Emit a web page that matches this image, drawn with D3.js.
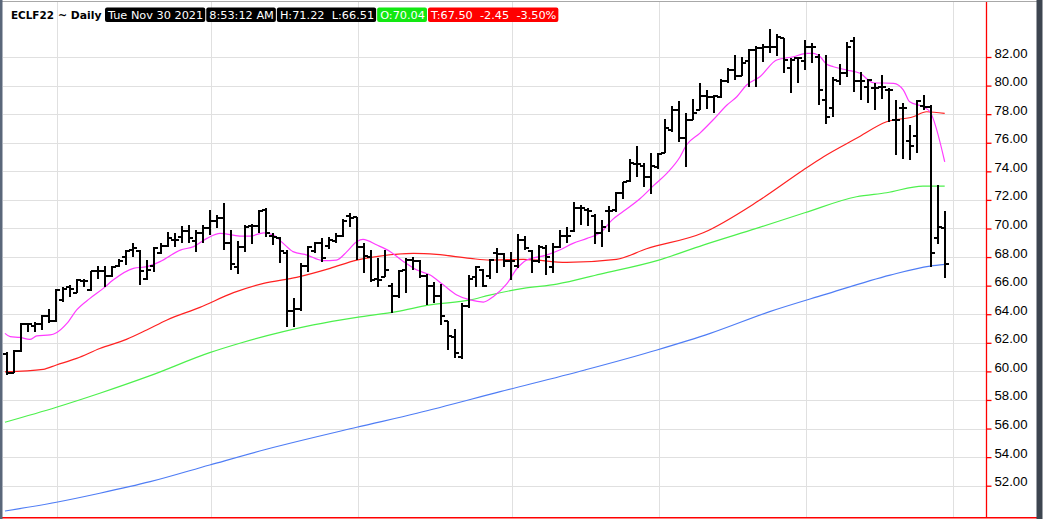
<!DOCTYPE html>
<html>
<head>
<script src="https://d3js.org/d3.v7.min.js"></script>
<style>
  html, body { margin: 0; padding: 0; background: #fff; overflow: hidden; }
  svg { display: block; }
  .grid line { stroke: #e0e0e0; stroke-width: 1px; shape-rendering: crispEdges; }
  .ma { fill: none; stroke-width: 1.2px; }
  .bar { stroke: #000; stroke-width: 2px; fill: none; shape-rendering: crispEdges; }
  .hdr text { font-family: "DejaVu Sans", sans-serif; font-size: 11.3px; white-space: pre; }
  .axis text { font-family: "Liberation Sans", Arial, sans-serif; font-size: 13.2px; fill: #000; }
</style>
</head>
<body>
<svg id="chart" width="1043" height="519"></svg>
<script>
// ---- data (135 daily bars, ECLF22) ----
const opens = [61.2,59.9,61.4,63.3,63.2,63.3,63.9,63.5,65.0,65.9,65.5,66.3,65.7,67.0,67.0,66.7,67.4,68.0,68.5,68.4,
  66.5,67.4,68.3,68.8,69.2,69.4,69.8,69.1,69.7,70.0,70.5,70.7,69.0,67.3,68.7,70.2,70.2,71.3,69.5,69.3,
  68.3,64.2,64.4,67.4,68.4,69.0,68.8,69.1,69.5,70.9,70.8,68.7,68.0,66.5,66.6,66.0,65.3,67.1,67.8,67.7,
  66.7,66.0,65.3,63.5,62.4,61.0,64.6,66.6,67.1,66.7,68.3,68.2,67.7,67.4,69.2,68.4,67.7,68.6,67.3,68.7,
  69.5,69.8,71.4,71.3,70.9,69.7,71.2,71.3,72.5,73.3,74.5,74.4,73.6,74.3,75.3,76.9,78.3,76.3,77.6,78.3,
  79.3,79.2,79.2,80.3,81.1,80.7,81.7,82.5,82.6,82.7,82.7,83.3,81.2,81.9,81.7,82.7,82.0,79.0,78.4,80.3,
  80.9,83.1,80.3,79.9,79.8,79.9,79.7,77.6,78.4,76.1,76.5,78.6,78.5,69.3,70.04];
const highs = [61.38,61.49,63.36,63.41,63.48,63.94,64.34,65.74,65.88,66.04,66.44,66.44,67.04,67.37,67.37,67.37,67.84,68.49,68.96,68.49,
  67.79,68.68,68.96,69.77,69.66,70.17,70.24,69.89,70.24,71.29,70.94,71.76,69.9,69.1,70.24,70.31,71.29,71.41,69.66,69.42,
  68.49,65.11,67.56,68.77,69.07,69.31,69.42,69.66,70.64,71.10,70.82,68.96,68.49,67.91,68.49,66.21,67.09,67.91,68.03,67.79,
  66.81,66.28,66.11,63.55,62.94,64.76,66.74,67.37,67.14,67.84,68.61,68.26,68.37,69.61,69.47,68.49,68.84,68.84,68.96,69.89,
  70.12,71.87,71.64,71.41,71.01,70.59,71.57,72.57,73.27,74.84,75.77,74.59,75.26,75.31,77.64,78.57,78.92,78.06,79.04,80.20,
  79.69,79.34,80.44,81.21,82.14,81.98,82.54,82.77,82.91,83.94,83.61,83.31,81.91,82.02,83.19,82.96,82.19,82.14,80.62,81.51,
  83.07,83.42,80.97,80.44,80.16,80.74,79.81,78.99,78.76,77.24,78.99,79.34,78.64,73.04,71.22];
const lows = [59.74,59.86,61.38,62.78,62.78,62.89,63.41,63.48,64.88,65.18,65.50,65.88,65.64,66.44,65.88,66.63,67.32,67.44,68.02,66.04,
  66.39,66.97,68.21,68.72,68.68,68.96,68.96,68.37,68.96,69.54,70.01,68.49,67.1,66.81,68.37,68.91,69.70,69.42,68.84,67.56,
  63.13,63.13,64.25,66.97,68.26,67.67,68.54,68.96,69.42,70.12,67.79,66.86,66.28,65.88,66.63,64.06,65.11,65.46,67.09,66.51,
  64.64,64.76,63.24,61.49,60.91,60.84,64.41,65.93,65.93,66.44,66.91,67.32,66.39,67.21,68.49,66.91,67.56,66.74,66.86,68.61,
  68.96,69.77,70.24,70.17,68.91,68.68,69.77,71.17,72.04,73.27,73.62,72.92,72.41,74.14,75.26,76.78,76.08,74.28,77.59,78.29,
  78.34,78.11,79.11,80.20,80.39,80.67,79.92,79.88,81.67,82.30,82.07,80.90,79.46,80.16,81.09,81.56,78.64,77.31,77.83,80.04,
  80.62,79.57,78.99,78.76,78.29,79.04,77.48,75.14,74.84,74.79,75.31,78.29,67.33,68.92,66.51];
const closes = [59.9,61.4,63.3,63.3,63.3,63.9,63.5,65.7,65.8,65.8,66.4,66.3,67.0,67.0,66.7,67.3,67.7,68.4,68.6,67.0,
  67.1,68.6,68.8,69.3,69.2,69.8,69.3,69.7,70.0,70.5,70.7,69.0,67.5,68.7,70.1,70.2,71.2,69.7,69.4,68.4,
  64.2,64.4,67.4,68.7,69.0,67.9,69.2,69.5,70.5,70.7,68.7,68.1,66.4,66.4,67.1,65.3,67.0,67.8,67.7,66.7,
  66.0,65.3,63.9,62.5,61.3,64.6,66.5,67.3,66.0,67.8,68.2,67.7,67.7,69.2,68.6,67.7,68.7,68.0,68.7,69.5,
  69.5,71.4,71.4,71.2,69.7,70.1,71.2,72.5,73.25,74.6,74.5,73.6,74.4,75.2,77.0,78.3,76.3,77.6,78.1,79.3,
  79.2,79.3,80.3,81.1,80.7,81.6,82.5,82.6,82.7,82.7,83.4,81.8,81.8,81.9,82.7,82.7,79.7,77.8,80.4,80.9,
  82.7,80.3,80.3,80.4,79.8,79.9,79.7,77.6,78.4,75.8,78.9,78.5,68.3,70.1,67.50];

// moving averages, sampled as [bar index, price]
const maFast = [[-0.25,62.66],[0.5,62.43],[1.9,62.38],[3.3,62.24],[4.3,62.48],[6.2,62.55],[7.1,62.71],[8.6,63.36],[10,64.30],
  [11.9,65.11],[13.8,65.81],[15.2,66.39],[18.1,67.21],[20,67.33],[21.9,67.68],[24.8,68.49],[26.7,68.73],[28.6,69.31],
  [30.5,69.66],[33.3,69.47],[34.8,69.47],[36.7,69.70],[38.1,69.54],[39.5,68.96],[40.9,68.38],[42.9,68.14],[45.2,67.75],
  [47.1,67.79],[48.6,68.38],[50,69.08],[50.9,69.24],[52.9,68.84],[54.8,68.38],[56.7,67.68],[58.6,67.09],[60.5,66.74],
  [62.4,66.04],[64.3,65.35],[66.2,65.00],[68.1,64.85],[69.5,65.23],[71.4,66.1],[72.9,67.2],[74.3,67.8],[77.1,68.14],
  [79,68.49],[80.9,68.96],[82.9,69.31],[84.8,69.7],[86.5,70.6],[88.1,71.2],[90.5,72.1],[92.4,73.0],[94.3,73.86],
  [96.2,75.02],[97.1,75.84],[99,76.66],[100.9,77.59],[102.9,78.64],[104.3,79.22],[105.7,80.04],[107.6,80.62],
  [110,81.79],[112.4,82.02],[114.3,82.26],[115.2,82.26],[116.2,82.02],[117.1,81.51],[118.1,81.32],[120,81.09],
  [121.9,80.86],[123.8,80.20],[126.7,80.16],[128.1,79.69],[129,78.87],[130.9,78.52],[131.9,78.17],[134,74.67]];
const maMid = [[-0.25,59.96],[5.2,60.14],[7.1,60.45],[10,60.91],[13.3,61.6],[17.1,62.24],[20,62.9],[22.9,63.60],
  [27.6,64.48],[32.4,65.51],[36.7,66.16],[41.4,66.58],[46.2,67.21],[50,67.79],[53.3,68.07],[58.1,68.26],[61.4,68.19],
  [66.2,67.91],[69,67.79],[73.8,67.84],[80,67.63],[87.1,67.84],[91.4,68.58],[99.5,69.7],[107.3,71.9],[113.8,74.09],
  [116.7,75.02],[121.4,76.31],[125.7,77.47],[129.5,77.82],[131.4,78.17],[134,78.06]];
const maSlow = [[-0.25,56.44],[7.1,57.49],[13.3,58.47],[20.5,59.70],[29,61.31],[33.3,61.97],[39.5,62.78],[43.8,63.25],
  [50,63.78],[55.7,64.18],[60.5,64.65],[66.2,65.0],[69,65.34],[73.8,65.81],[78.6,66.11],[84.8,66.81],[92.9,67.75],
  [99.5,68.84],[107.1,70.01],[114,71.10],[121.4,72.22],[125.7,72.5],[130.9,72.97],[134,72.97]];
const maLong = [[-0.25,50.23],[7.1,50.84],[13.3,51.47],[20.5,52.28],[29,53.45],[37.1,54.55],[50,56.09],[58.6,57.07],
  [70.5,58.58],[82.6,60.10],[92.9,61.50],[100.5,62.66],[109,64.18],[116.7,65.35],[126.2,66.74],[131.9,67.37],[134,67.49]];

const priceTicks = [52,54,56,58,60,62,64,66,68,70,72,74,76,78,80,82];
const monthStarts = [7, 29, 50, 72, 93, 114, 135];   // bar index of first trading day of each month

const headerTitle = 'ECLF22';
const headerPeriod = '~ Daily';
const headerBoxes = ['Tue Nov 30 2021', '8:53:12 AM', 'H:71.22  L:66.51', 'O:70.04', 'T:67.50  -2.45  -3.50%'];
const headerBoxColors = ['#000000', '#000000', '#000000', '#12e812', '#ff0000'];

// ---- layout ----
const svg = d3.select('#chart');
const width = 1043, height = 519;
const plot = { left: 3, right: 986.5, top: 2, bottom: 518 };

const x = d3.scaleLinear().domain([0, 134]).range([6.7, 944.7]);
const y = d3.scaleLinear().domain([49.74, 85.85]).range([plot.bottom, plot.top]);

svg.append('rect').attr('width', width).attr('height', height).attr('fill', '#fff');

// grid
const grid = svg.append('g').attr('class', 'grid');
grid.selectAll('line.h')
  .data(priceTicks)
  .join('line')
  .attr('class', 'h')
  .attr('x1', plot.left).attr('x2', plot.right)
  .attr('y1', (d) => Math.round(y(d)) + 0.5).attr('y2', (d) => Math.round(y(d)) + 0.5);
grid.selectAll('line.v')
  .data(monthStarts)
  .join('line')
  .attr('class', 'v')
  .attr('x1', (d) => Math.round(x(d)) + 1.5).attr('x2', (d) => Math.round(x(d)) + 1.5)
  .attr('y1', plot.top).attr('y2', plot.bottom);

// moving averages
const line = d3.line().x((d) => x(d[0])).y((d) => y(d[1])).curve(d3.curveMonotoneX);
const maSeries = [
  { data: maLong, color: '#4f7df5' },
  { data: maSlow, color: '#4df04d' },
  { data: maMid, color: '#ff2121' },
  { data: maFast, color: '#ff3cff' }
];
svg.append('g').selectAll('path.ma')
  .data(maSeries)
  .join('path')
  .attr('class', 'ma')
  .attr('stroke', (d) => d.color)
  .attr('d', (d) => line(d.data));

// OHLC bars
svg.append('g').selectAll('path.bar')
  .data(d3.range(opens.length))
  .join('path')
  .attr('class', 'bar')
  .attr('d', (i) => {
    const bx = Math.round(x(i));
    const yo = Math.round(y(opens[i])), yc = Math.round(y(closes[i]));
    return `M${bx},${Math.round(y(highs[i]))}V${Math.round(y(lows[i]))}` +
      `M${bx - 4},${yo}H${bx}M${bx},${yc}H${bx + 4}`;
  });

// price axis on the right
const axis = svg.append('g')
  .attr('class', 'axis')
  .attr('transform', `translate(${plot.right},0)`)
  .call(d3.axisRight(y).tickValues(priceTicks).tickSize(5).tickPadding(3).tickFormat(d3.format('.2f')));
axis.select('.domain').remove();
axis.selectAll('.tick line').attr('stroke', '#ff0000').attr('stroke-width', 1.3);
axis.selectAll('.tick text').attr('dy', '0');

// frame
svg.append('line').attr('x1', plot.right).attr('x2', plot.right).attr('y1', plot.top).attr('y2', plot.bottom)
  .attr('stroke', '#ff0000').attr('stroke-width', 1.3);
svg.append('line').attr('x1', 0).attr('x2', 1037).attr('y1', 517.8).attr('y2', 517.8)
  .attr('stroke', '#ff0000').attr('stroke-width', 1.5);
svg.append('line').attr('x1', 0).attr('x2', 1037).attr('y1', 1.5).attr('y2', 1.5)
  .attr('stroke', '#a8a8a8').attr('stroke-width', 1);
svg.append('rect').attr('x', 0).attr('y', 0).attr('width', 2.5).attr('height', height).attr('fill', '#5a677a');
svg.append('rect').attr('x', 1036.5).attr('y', 0).attr('width', 6).attr('height', height).attr('fill', '#3d4550');

// header
const hdr = svg.append('g').attr('class', 'hdr');
hdr.append('text').attr('x', 11).attr('y', 19).attr('font-weight', 'bold').style('font-size', '10.4px').text(headerTitle);
hdr.append('text').attr('x', 58).attr('y', 19).attr('font-weight', 'bold').style('font-size', '10.8px').text(headerPeriod);
let bx = 105;
headerBoxes.forEach((label, k) => {
  const g = hdr.append('g');
  const r = g.append('rect');
  const t = g.append('text')
    .attr('xml:space', 'preserve')
    .attr('x', bx + 3).attr('y', 19).attr('fill', '#fff').text(label);
  const w = t.node().getComputedTextLength() + 5;
  r.attr('x', bx).attr('y', 7.5).attr('width', w).attr('height', 14.5).attr('rx', 2).attr('fill', headerBoxColors[k]);
  bx += w + 1;
});
</script>
</body>
</html>
